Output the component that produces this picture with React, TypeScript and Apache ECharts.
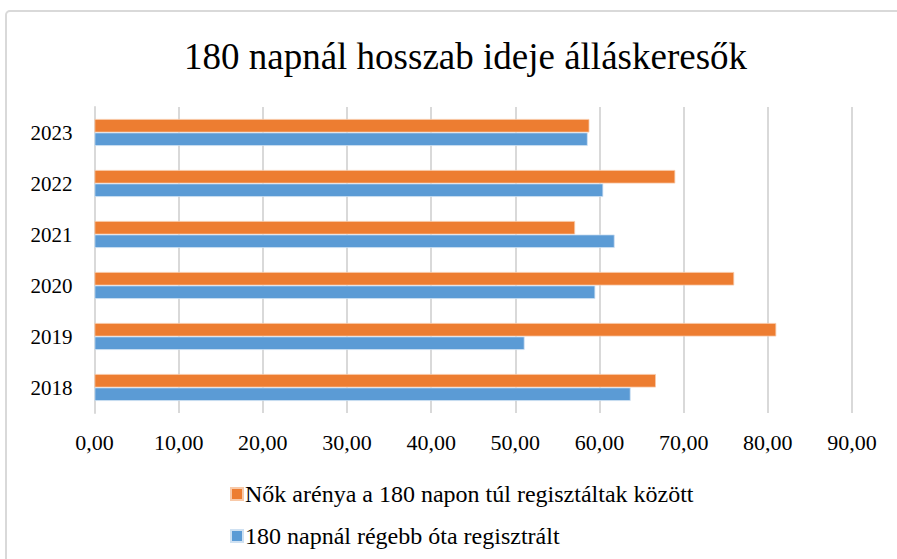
import React, { useEffect, useRef } from "react";
import * as echarts from "echarts";

const years = ["2018", "2019", "2020", "2021", "2022", "2023"];
const nokAranya = [66.7, 81.0, 76.0, 57.1, 69.0, 58.8];
const regebbOta = [63.7, 51.1, 59.5, 61.8, 60.45, 58.6];
const xTicks = { min: 0, max: 90, interval: 10 };
const seriesNames = [
  "Nők arénya a 180 napon túl regisztáltak között",
  "180 napnál régebb óta regisztrált",
];
const title = "180 napnál hosszab ideje álláskeresők";

const FONT = "'Liberation Serif', 'Times New Roman', serif";

export default function App() {
  const ref = useRef<HTMLDivElement>(null);
  useEffect(() => {
    if (!ref.current) return;
    const chart = echarts.init(ref.current, null, { renderer: "svg" });
    chart.setOption({
      animation: false,
      backgroundColor: "#ffffff",
      title: {
        text: title,
        left: 179,
        top: 33,
        textStyle: { fontFamily: FONT, fontSize: 37, fontWeight: "normal", color: "#000" },
      },
      graphic: [
        {
          type: "rect",
          shape: { x: 6, y: 11, width: 1000, height: 700, r: 4 },
          style: { fill: "none", stroke: "#d9d9d9", lineWidth: 2 },
          silent: true,
          z: -1,
        },
      ],
      legend: {
        orient: "vertical",
        left: 225,
        top: 477,
        itemWidth: 12,
        itemHeight: 12,
        itemGap: 18,
        icon: "rect",
        data: [seriesNames[0], seriesNames[1]],
        textStyle: {
          fontFamily: FONT,
          fontSize: 24,
          lineHeight: 24,
          color: "#000",
          padding: [0, 0, 0, -3],
        },
      },
      grid: { left: 94.5, right: 45, top: 107, bottom: 146, containLabel: false },
      xAxis: {
        type: "value",
        min: xTicks.min,
        max: xTicks.max,
        interval: xTicks.interval,
        axisLine: { show: false },
        axisTick: { show: false },
        splitLine: { show: true, lineStyle: { color: "#d9d9d9", width: 2 } },
        axisLabel: {
          margin: 18,
          fontFamily: FONT,
          fontSize: 22,
          color: "#000",
          formatter: (v: number) => v.toFixed(2).replace(".", ","),
        },
      },
      yAxis: {
        type: "category",
        data: years,
        axisLine: { show: true, lineStyle: { color: "#d9d9d9", width: 2 } },
        axisTick: { show: false },
        axisLabel: { margin: 22, fontFamily: FONT, fontSize: 21, color: "#000" },
      },
      series: [
        {
          name: seriesNames[0],
          type: "bar",
          data: nokAranya,
          itemStyle: { color: "#ED7D31", borderColor: "#f8c9a8", borderWidth: 0.8 },
          barGap: "0%",
          barWidth: 13.5,
        },
        {
          name: seriesNames[1],
          type: "bar",
          data: regebbOta,
          itemStyle: { color: "#5B9BD5", borderColor: "#cfe1f2", borderWidth: 0.8 },
          barGap: "0%",
          barWidth: 13.5,
        },
      ],
    });
    return () => chart.dispose();
  }, []);
  return (
    <div
      ref={ref}
      style={{ position: "fixed", left: 0, top: 0, width: 897, height: 559 }}
    />
  );
}
